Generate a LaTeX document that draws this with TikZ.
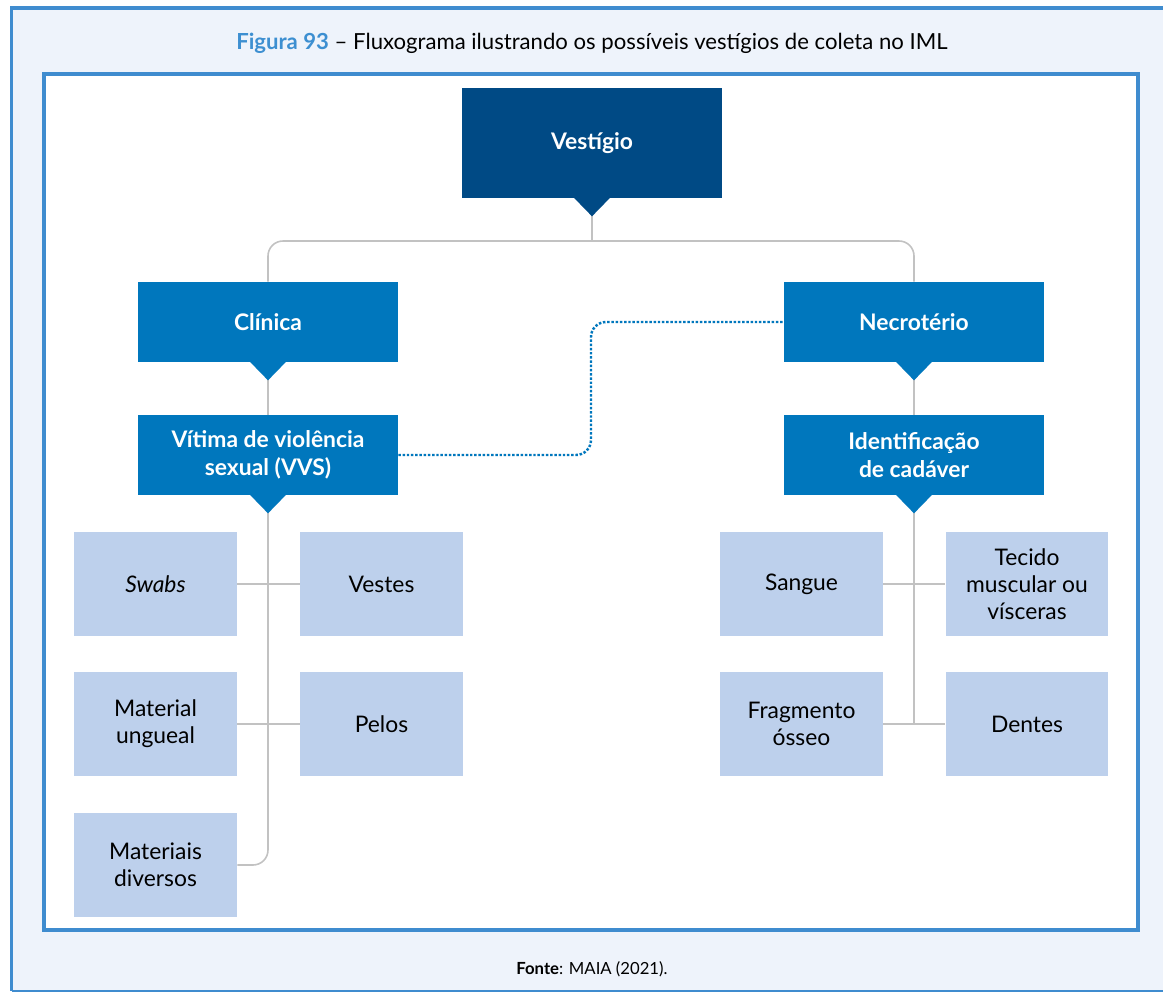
\documentclass[tikz,border=0pt]{standalone}
\usepackage{fontspec}
\setmainfont{Lato}
\usetikzlibrary{calc}

\definecolor{navy}{HTML}{004A85}
\definecolor{midblue}{HTML}{0077BD}
\definecolor{leafblue}{HTML}{BDD0EC}
\definecolor{outerbg}{HTML}{EEF3FB}
\definecolor{frameblue}{HTML}{3F8CCF}
\definecolor{titleblue}{HTML}{3D8FD1}
\definecolor{linegray}{HTML}{C2C2C2}

\begin{document}
\begin{tikzpicture}[x=0.02cm,y=-0.02cm,
    topbox/.style={fill=navy,text=white,inner sep=0pt,align=center,
        font={\fontsize{13}{16}\selectfont\bfseries},
        minimum width=5.2cm,minimum height=2.2cm},
    midbox/.style={topbox,fill=midblue,minimum height=1.6cm},
    leaf/.style={fill=leafblue,text=black,inner sep=0pt,align=center,
        font={\fontsize{13}{15.5}\selectfont},
        minimum width=3.26cm,minimum height=2.08cm},
    conn/.style={draw=linegray,line width=0.9pt},
    link/.style={draw=midblue,line width=1.4pt,densely dotted}]
\useasboundingbox (0,0) rectangle (1163,993);
\clip (0,0) rectangle (1163,993);

% frames
\fill[white] (0,0) rectangle (1163,993);
\fill[outerbg] (11.5,8) rectangle (1200,991);
\draw[frameblue,line width=0.08cm] (1200,8) -- (11.5,8) -- (11.5,991);
\draw[frameblue,line width=0.04cm] (11.5,991) -- (1200,991);
\draw[frameblue,line width=0.08cm,fill=white] (44,74) rectangle (1138,930);

\node[font={\fontsize{12.6}{15}\selectfont}] (title) at (592,43)
    {{\color{titleblue}\bfseries Figura 93} -- Fluxograma ilustrando os possíveis vestígios de coleta no IML};
\node[font={\fontsize{9.5}{11}\selectfont}] (fonte) at (592,969) {{\bfseries Fonte}: MAIA (2021).};

% boxes
\node[topbox] (vest) at (592,143) {\raisebox{-2pt}{Vestígio}};
\node[midbox] (clin) at (268,322) {\raisebox{-2pt}{Clínica}};
\node[midbox] (necro) at (914,322) {\raisebox{-2pt}{Necrotério}};
\node[midbox] (vvs) at (268,455) {Vítima de violência\\sexual (VVS)};
\node[midbox] (ident) at (914,455) {Identificação\\de cadáver};

\node[leaf] (swabs) at (155.5,584) {\itshape Swabs};
\node[leaf] (vestes) at (381.5,584) {Vestes};
\node[leaf] (ungueal) at (155.5,724) {Material\\ungueal};
\node[leaf] (pelos) at (381.5,724) {Pelos};
\node[leaf] (diversos) at (155.5,865) {Materiais\\diversos};

\node[leaf] (sangue) at (801.5,584) {Sangue};
\node[leaf] (tecido) at (1027,584) {Tecido\\muscular ou\\vísceras};
\node[leaf] (fragm) at (801.5,724) {Fragmento\\ósseo};
\node[leaf] (dentes) at (1027,724) {Dentes};

% connectors
\coordinate (bar) at (592,241);
\draw[conn] (vest.south) -- (bar);
\draw[conn,rounded corners=0.3cm] (clin.north) |- (bar) -| (necro.north);
\draw[conn] (clin.south) -- (vvs.north);
\draw[conn] (necro.south) -- (ident.north);
\draw[link,rounded corners=0.3cm] (vvs.east) -| ($(vvs.east)!0.5!(necro.west)$) |- (necro.west);

\draw[conn,rounded corners=0.3cm] (vvs.south) |- (diversos.east);
\draw[conn] (swabs.east) -- (vestes.west);
\draw[conn] (ungueal.east) -- (pelos.west);

\draw[conn] (ident.south) -- (ident.south |- dentes.west);
\draw[conn] (sangue.east) -- (tecido.west);
\draw[conn] (fragm.east) -- (dentes.west);

% pointers under the boxes
\foreach \n/\c in {vest/navy,clin/midblue,necro/midblue,vvs/midblue,ident/midblue}
    \fill[\c] ($(\n.south)+(-18,-0.5)$) -- ++(18,18.5) -- ++(18,-18.5) -- cycle;

\end{tikzpicture}
\end{document}
